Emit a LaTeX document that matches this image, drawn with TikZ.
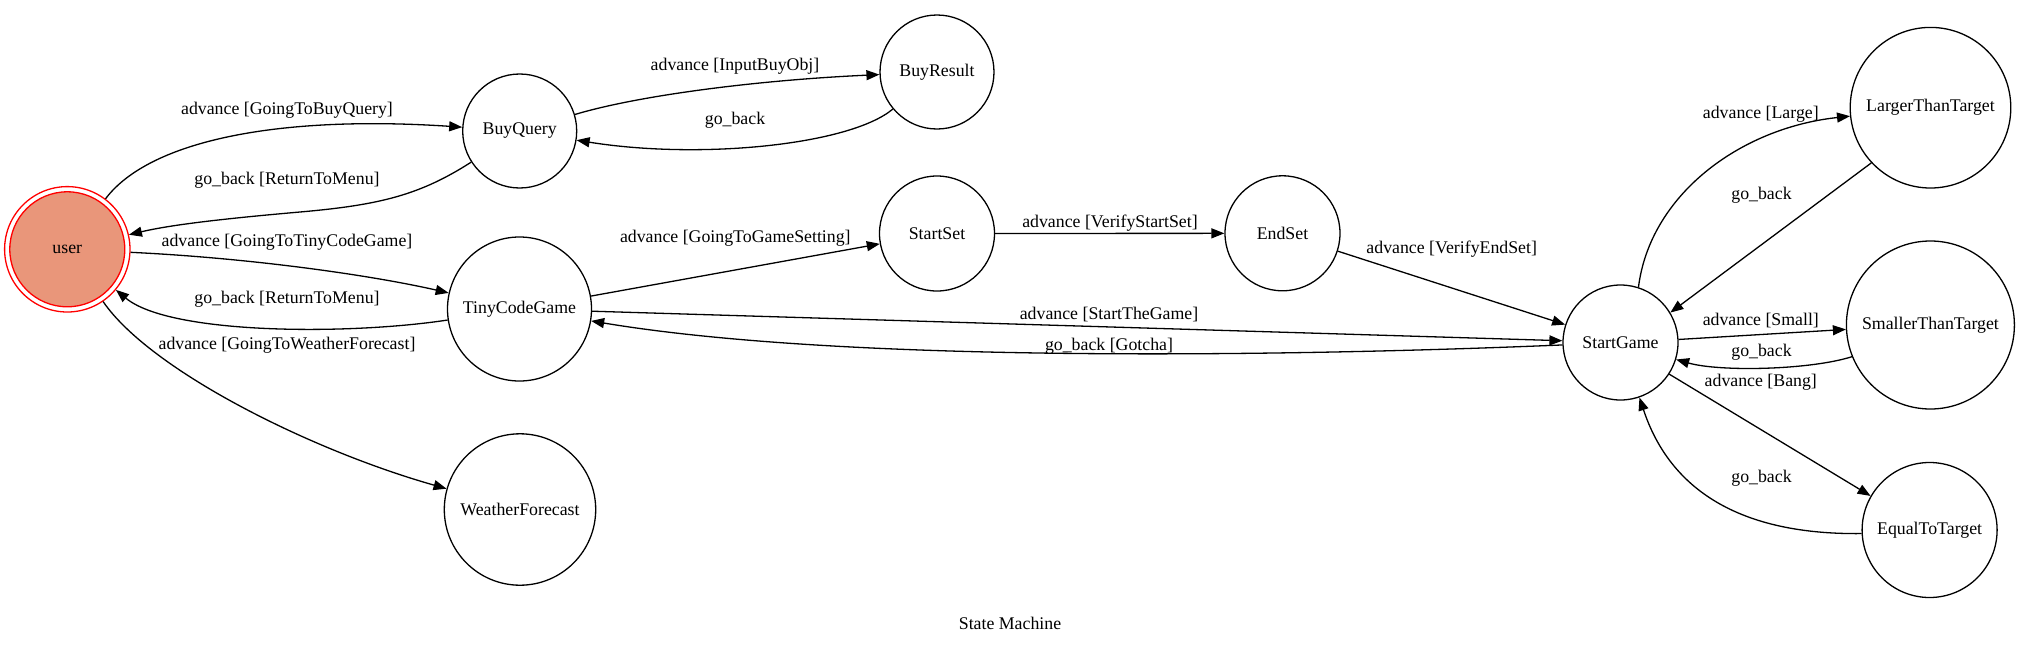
\documentclass[tikz,border=0pt]{standalone}
\usepackage{fontspec}
\setmainfont{Liberation Serif}
\usetikzlibrary{arrows.meta}
\definecolor{usersalmon}{RGB}{233,150,122}
\begin{document}
\begin{tikzpicture}[x=1pt,y=-1pt,
  every node/.style={font=\fontsize{17.8}{21}\selectfont},
  state/.style={circle, draw=black, line width=1.3pt, inner sep=0pt},
  edge/.style={line width=1.3pt, -{Triangle[length=13pt,width=10pt]}},
  lbl/.style={inner sep=0pt}]
\useasboundingbox (0,0) rectangle (2021,645);
% nodes
\node[circle, draw=red, line width=1.3pt, minimum size=125.4pt, inner sep=0pt] (user) at (67.3,249.3) {};
\node[circle, draw=red, line width=1.3pt, fill=usersalmon, minimum size=115pt, inner sep=0pt] (userin) at (67.3,249.3) {user};
\node[state, minimum size=114pt] (BuyQuery) at (519.7,131) {BuyQuery};
\node[state, minimum size=144pt] (TinyCodeGame) at (519.5,309) {TinyCodeGame};
\node[state, minimum size=151.4pt] (WeatherForecast) at (520,509.5) {WeatherForecast};
\node[state, minimum size=114pt] (BuyResult) at (937,72) {BuyResult};
\node[state, minimum size=115pt] (StartSet) at (937,233.5) {StartSet};
\node[state, minimum size=115pt] (EndSet) at (1282.5,233.3) {EndSet};
\node[state, minimum size=115pt] (StartGame) at (1620.5,342.5) {StartGame};
\node[state, minimum size=160.6pt] (LargerThanTarget) at (1930.5,107.7) {LargerThanTarget};
\node[state, minimum size=168pt] (SmallerThanTarget) at (1930.4,325) {SmallerThanTarget};
\node[state, minimum size=135pt] (EqualToTarget) at (1929.6,530) {EqualToTarget};
% edges
\draw[edge] (user) .. controls (150,140) and (280,115) .. (BuyQuery);
\draw[edge] (BuyQuery) .. controls (420,195) and (380,205) .. (300,212) .. controls (220,219) and (170,225) .. (user);
\draw[edge] (user) .. controls (250,258) and (370,275) .. (TinyCodeGame);
\draw[edge] (TinyCodeGame) .. controls (350,335) and (170,335) .. (user);
\draw[edge] (user) .. controls (150,370) and (310,450) .. (WeatherForecast);
\draw[edge] (BuyQuery) .. controls (640,95) and (760,80) .. (BuyResult);
\draw[edge] (BuyResult) .. controls (850,145) and (700,160) .. (BuyQuery);
\draw[edge] (TinyCodeGame) -- (StartSet);
\draw[edge] (StartSet) -- (EndSet);
\draw[edge] (EndSet) -- (StartGame);
\draw[edge] (TinyCodeGame) -- (StartGame);
\draw[edge] (StartGame) .. controls (1300,356) and (850,364) .. (TinyCodeGame);
\draw[edge] (StartGame.72) .. controls (1650,195) and (1740,128) .. (LargerThanTarget.186);
\draw[edge] (LargerThanTarget.223) -- (StartGame.31);
\draw[edge] (StartGame.3) -- (SmallerThanTarget.183);
\draw[edge] (SmallerThanTarget.202) .. controls (1810,370) and (1720,372) .. (StartGame.-17);
\draw[edge] (StartGame.-33) -- (EqualToTarget.150);
\draw[edge] (EqualToTarget.183) .. controls (1740,535) and (1670,490) .. (StartGame.-71);
% labels
\node[lbl] (l1) at (287,110.7) {advance [GoingToBuyQuery]};
\node[lbl] (l2) at (287,180.7) {go\_back [ReturnToMenu]};
\node[lbl] (l3) at (287,242.7) {advance [GoingToTinyCodeGame]};
\node[lbl] (l4) at (287,299) {go\_back [ReturnToMenu]};
\node[lbl] (l5) at (287,345.7) {advance [GoingToWeatherForecast]};
\node[lbl] (l6) at (735,66.7) {advance [InputBuyObj]};
\node[lbl] (l7) at (735,120.7) {go\_back};
\node[lbl] (l8) at (735.3,238.3) {advance [GoingToGameSetting]};
\node[lbl] (l9) at (1110,222.7) {advance [VerifyStartSet]};
\node[lbl] (l10) at (1451.7,249) {advance [VerifyEndSet]};
\node[lbl] (l11) at (1109,314.3) {advance [StartTheGame]};
\node[lbl] (l12) at (1109,346.7) {go\_back [Gotcha]};
\node[lbl] (l13) at (1760.8,114) {advance [Large]};
\node[lbl] (l14) at (1761.5,195) {go\_back};
\node[lbl] (l15) at (1760.8,320.7) {advance [Small]};
\node[lbl] (l16) at (1761.5,352.3) {go\_back};
\node[lbl] (l17) at (1760.8,382.7) {advance [Bang]};
\node[lbl] (l18) at (1761.5,478.3) {go\_back};
\node[lbl] (title) at (1010,623) {State Machine};
\end{tikzpicture}
\end{document}
